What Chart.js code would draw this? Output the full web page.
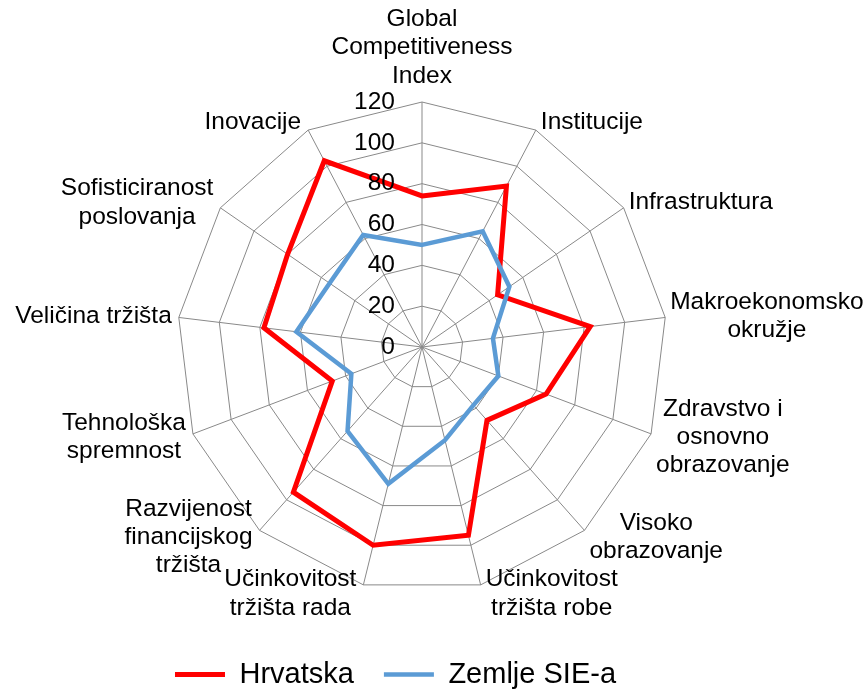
<!DOCTYPE html>
<html>
<head>
<meta charset="utf-8">
<script src="https://cdn.jsdelivr.net/npm/chart.js@4.4.1/dist/chart.umd.min.js"></script>
<style>
  body { margin: 0; background: #fff; }
</style>
</head>
<body>
<canvas id="radarChart" width="868" height="691"></canvas>
<script>
const categories = [
  ['Global', 'Competitiveness', 'Index'],
  'Institucije',
  'Infrastruktura',
  ['Makroekonomsko', 'okružje'],
  ['Zdravstvo i', 'osnovno', 'obrazovanje'],
  ['Visoko', 'obrazovanje'],
  ['Učinkovitost', 'tržišta robe'],
  ['Učinkovitost', 'tržišta rada'],
  ['Razvijenost', 'financijskog', 'tržišta'],
  ['Tehnološka', 'spremnost'],
  'Veličina tržišta',
  ['Sofisticiranost', 'poslovanja'],
  'Inovacije'
];
const hrvatska = [74, 89, 45, 83, 65, 48, 95, 100, 95, 47, 78, 80, 103];
const zemljeSIE = [50, 64, 52, 35, 40, 38, 47, 69, 55, 37, 62, 55, 62];
const tickValues = [0, 20, 40, 60, 80, 100, 120];

const fontFamily = '"Liberation Sans", Arial, sans-serif';
const labelFont = '24.5px ' + fontFamily;

// tick numbers sit left of the vertical axis, right aligned, on top of the lines
const tickLabels = {
  id: 'tickLabels',
  afterDatasetsDraw(chart) {
    const scale = chart.scales.r;
    const ctx = chart.ctx;
    ctx.save();
    ctx.font = labelFont;
    ctx.fillStyle = '#000';
    ctx.textAlign = 'right';
    ctx.textBaseline = 'middle';
    tickValues.forEach(v => {
      const y = scale.yCenter - scale.getDistanceFromCenterForValue(v);
      ctx.fillText(String(v), scale.xCenter - 27, y);
    });
    ctx.restore();
  }
};

// category names, lines centred inside each block like Excel does
const pointLabels = {
  id: 'pointLabels',
  afterDraw(chart) {
    const scale = chart.scales.r;
    const ctx = chart.ctx;
    const lineH = 28.3;
    ctx.save();
    ctx.font = labelFont;
    ctx.fillStyle = '#000';
    ctx.textAlign = 'center';
    ctx.textBaseline = 'middle';
    categories.forEach((label, i) => {
      const lines = [].concat(label);
      const a = scale.getIndexAngle(i);
      const s = Math.sin(a), c = Math.cos(a);
      const p = scale.getPointPosition(i, scale.drawingArea);
      const w = Math.max(...lines.map(t => ctx.measureText(t).width));
      const h = lines.length * lineH;
      let cx, cy;
      if (Math.abs(s) < 0.05) {
        cx = p.x;
        cy = c > 0 ? p.y - 12 - h / 2 : p.y + 12 + h / 2;
      } else {
        cx = s > 0 ? p.x + 5 + w / 2 : p.x - 7 - w / 2;
        cy = p.y - 9 * c;
      }
      lines.forEach((t, k) => ctx.fillText(t, cx, cy - h / 2 + lineH * (k + 0.5)));
    });
    ctx.restore();
  }
};

const legendShift = {
  id: 'legendShift',
  afterLayout(chart) {
    const lg = chart.legend;
    lg.left -= 27; lg.right -= 27;
    lg.top += 38; lg.bottom += 38;
  }
};

const ctx = document.getElementById('radarChart').getContext('2d');
new Chart(ctx, {
  type: 'radar',
  data: {
    labels: categories,
    datasets: [
      {
        label: 'Hrvatska',
        data: hrvatska,
        borderColor: '#ff0000',
        backgroundColor: '#ff0000',
        borderWidth: 5,
        fill: false,
        order: 1
      },
      {
        label: 'Zemlje SIE-a',
        data: zemljeSIE,
        borderColor: '#5b9bd5',
        backgroundColor: '#5b9bd5',
        borderWidth: 4.5,
        fill: false,
        order: 0
      }
    ]
  },
  options: {
    responsive: false,
    animation: false,
    layout: { padding: { top: 102, left: 0, right: 23, bottom: 30 } },
    elements: {
      line: { tension: 0 },
      point: { radius: 0, hoverRadius: 0 }
    },
    scales: {
      r: {
        min: 0,
        max: 120,
        ticks: { display: false, stepSize: 20 },
        grid: { color: '#898989', lineWidth: 1 },
        angleLines: { color: '#898989', lineWidth: 1 },
        pointLabels: { display: false }
      }
    },
    plugins: {
      tooltip: { enabled: false },
      legend: {
        position: 'bottom',
        labels: {
          usePointStyle: true,
          pointStyle: 'line',
          pointStyleWidth: 50,
          padding: 30,
          color: '#000',
          font: { size: 29, family: fontFamily },
          sort: (a, b) => a.datasetIndex - b.datasetIndex
        }
      }
    }
  },
  plugins: [tickLabels, pointLabels, legendShift]
});
</script>
</body>
</html>
